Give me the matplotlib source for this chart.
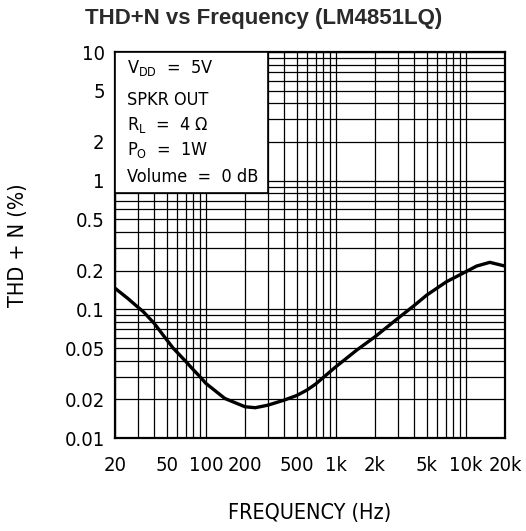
import matplotlib
matplotlib.use("Agg")
import matplotlib.pyplot as plt
from matplotlib.ticker import LogLocator, NullFormatter
from matplotlib.patches import Rectangle

# curve
freq = [20, 25, 30, 33, 40, 50, 56, 60, 70, 80, 90, 100, 140, 200, 240, 300, 400, 500,
        600, 700, 1000, 1450, 2000, 3000, 4000, 5000, 7100, 10000, 12100, 15300, 20000]
thdn = [0.146, 0.122, 0.104, 0.096, 0.078, 0.058, 0.050, 0.0465, 0.0394, 0.034, 0.030,
        0.0266, 0.0203, 0.0175, 0.0172, 0.0180, 0.0197, 0.0214,
        0.0236, 0.0263, 0.0358, 0.0483, 0.0612, 0.0851, 0.107, 0.129, 0.164, 0.196,
        0.217, 0.232, 0.217]

xticks = [20, 50, 100, 200, 500, 1000, 2000, 5000, 10000, 20000]
xlabels = ['20', '50', '100', '200', '500', '1k', '2k', '5k', '10k', '20k']
yticks = [0.01, 0.02, 0.05, 0.1, 0.2, 0.5, 1, 2, 5, 10]
ylabels = ['0.01', '0.02', '0.05', '0.1', '0.2', '0.5', '1', '2', '5', '10']

notes = [r'$\mathrm{V_{DD}}$  =  5V', 'SPKR OUT', r'$\mathrm{R_{L}}$  =  4 Ω',
         r'$\mathrm{P_{O}}$  =  1W', 'Volume  =  0 dB']
note_y = [0.945, 0.863, 0.798, 0.733, 0.664]

narrow = dict(family='DejaVu Sans', stretch='condensed')
plt.rcParams['mathtext.fontset'] = 'custom'
plt.rcParams['mathtext.rm'] = 'DejaVu Sans:stretch=condensed'

fig = plt.figure(figsize=(5.26, 5.31), dpi=100)
ax = fig.add_axes([0.2186, 0.1751, 0.7414, 0.7269])

ax.set_xscale('log')
ax.set_yscale('log')
ax.set_xlim(20, 20000)
ax.set_ylim(0.01, 10)

ax.xaxis.set_minor_locator(LogLocator(base=10, subs=range(1, 10), numticks=50))
ax.yaxis.set_minor_locator(LogLocator(base=10, subs=range(1, 10), numticks=50))
ax.xaxis.set_minor_formatter(NullFormatter())
ax.yaxis.set_minor_formatter(NullFormatter())
ax.set_xticks(xticks)
ax.set_xticklabels(xlabels, fontsize=14.5, **narrow)
ax.set_yticks(yticks)
ax.set_yticklabels(ylabels, fontsize=14.5, **narrow)
ax.tick_params(which='both', length=0)
ax.tick_params(axis='x', pad=13)
ax.tick_params(axis='y', pad=7.5)

ax.grid(True, which='both', color='black', linewidth=0.9)
ax.set_axisbelow(True)

for s in ax.spines.values():
    s.set_linewidth(1.6)

ax.plot(freq, thdn, color='black', linewidth=2.4, zorder=4,
        solid_joinstyle='round', solid_capstyle='round')

box = Rectangle((20, 0.8), 280, 9.2, facecolor='white', edgecolor='black',
                linewidth=1.2, zorder=3)
ax.add_patch(box)
for t, y in zip(notes, note_y):
    ax.text(0.03, y, t, transform=ax.transAxes, fontsize=13,
            va='baseline', ha='left', zorder=5, **narrow)

ax.set_xlabel('FREQUENCY (Hz)', fontsize=15.5, labelpad=20, **narrow)
ax.set_ylabel('THD + N (%)', fontsize=15.5, labelpad=26, **narrow)
fig.text(0.502, 0.955, 'THD+N vs Frequency (LM4851LQ)', fontsize=16, fontweight='bold',
         family=['Liberation Sans', 'DejaVu Sans'], color='#2a2a2a',
         ha='center', va='baseline')

fig.savefig('out.png', dpi=100)
